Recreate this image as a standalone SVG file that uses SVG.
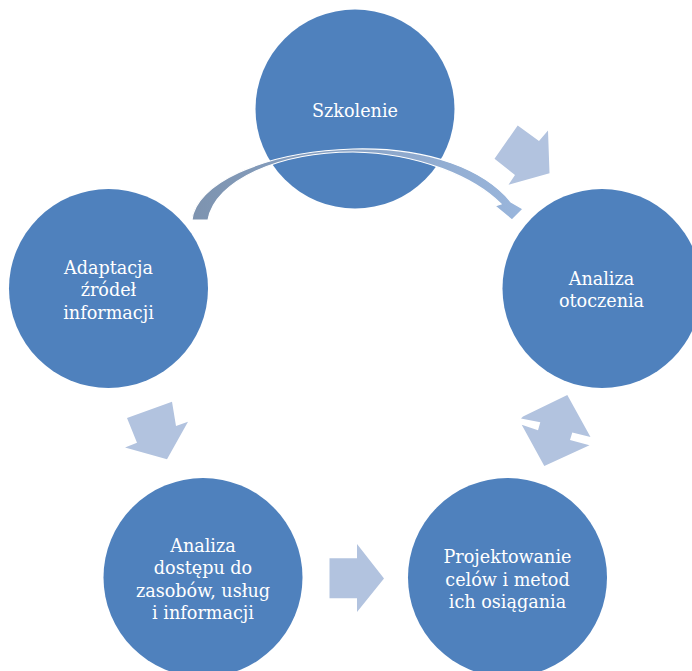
<svg xmlns="http://www.w3.org/2000/svg" width="692" height="671" viewBox="0 0 692 671">
  <style>
    .node { fill: #4F81BD; }
    .lbl { fill: #FFFFFF; font-family: "DejaVu Serif", "Liberation Serif", serif; font-size: 17.6px; text-anchor: middle; }
    .arr { fill: #B2C3DF; }
  </style>
  <defs>
    <linearGradient id="curveGrad" gradientUnits="userSpaceOnUse" x1="192" y1="0" x2="523" y2="0">
      <stop offset="0" stop-color="#7D93AF"/>
      <stop offset="0.5" stop-color="#8AA4C7"/>
      <stop offset="1" stop-color="#9AB6DC"/>
    </linearGradient>
  </defs>
  <rect width="692" height="671" fill="#FFFFFF"/>

  <g id="node-szkolenie">
    <circle class="node" cx="355" cy="109" r="99.5"/>
    <text class="lbl" x="355" y="117">Szkolenie</text>
  </g>
  <g id="node-analiza-otoczenia">
    <circle class="node" cx="602" cy="288.5" r="99.5"/>
    <text class="lbl" x="601.5" y="284.5">Analiza</text>
    <text class="lbl" x="601.5" y="306.8">otoczenia</text>
  </g>
  <g id="node-projektowanie">
    <circle class="node" cx="507.5" cy="577.5" r="99.5"/>
    <text class="lbl" x="507.5" y="563.3">Projektowanie</text>
    <text class="lbl" x="507.5" y="585.6">celów i metod</text>
    <text class="lbl" x="507.5" y="607.9">ich osiągania</text>
  </g>
  <g id="node-analiza-dostepu">
    <circle class="node" cx="203" cy="577.5" r="99.5"/>
    <text class="lbl" x="203" y="552">Analiza</text>
    <text class="lbl" x="203" y="574.3">dostępu do</text>
    <text class="lbl" x="203" y="596.6">zasobów, usług</text>
    <text class="lbl" x="203" y="618.9">i informacji</text>
  </g>
  <g id="node-adaptacja">
    <circle class="node" cx="108.5" cy="288.5" r="99.5"/>
    <text class="lbl" x="108.5" y="274">Adaptacja</text>
    <text class="lbl" x="108.5" y="296.3">źródeł</text>
    <text class="lbl" x="108.5" y="318.6">informacji</text>
  </g>

  <g id="connectors">
    <polygon class="arr" points="517.7,125.5 539,141 548,130.5 549.5,173.3 508.5,184.7 515,175 494.5,158.7"/>
    <polygon class="arr" points="567.3,395 590.5,437 572.3,432.5 570,440 589.5,445.3 544.3,466 521.7,424.7 538,430.3 540.3,422.3 521,418.5 523,416.5"/>
    <polygon class="arr" points="329.5,558.3 357,558.3 357,544 384,578.5 357,612 357,598.3 329.5,598.3"/>
    <polygon class="arr" points="127,418 172,401.7 176,426 188,421.7 167,459.3 125,447.5 137,442.7"/>
    <path d="M192,220 C195,185 260,152 353,149 C430,147 485,170 511,202 L523,209 L512,220 L495,206 L501,204 C475,178 420,153 353,152 C280,152 215,180 208,220 Z" fill="url(#curveGrad)" stroke="#FFFFFF" stroke-width="1.2" stroke-linejoin="miter"/>
  </g>
</svg>
